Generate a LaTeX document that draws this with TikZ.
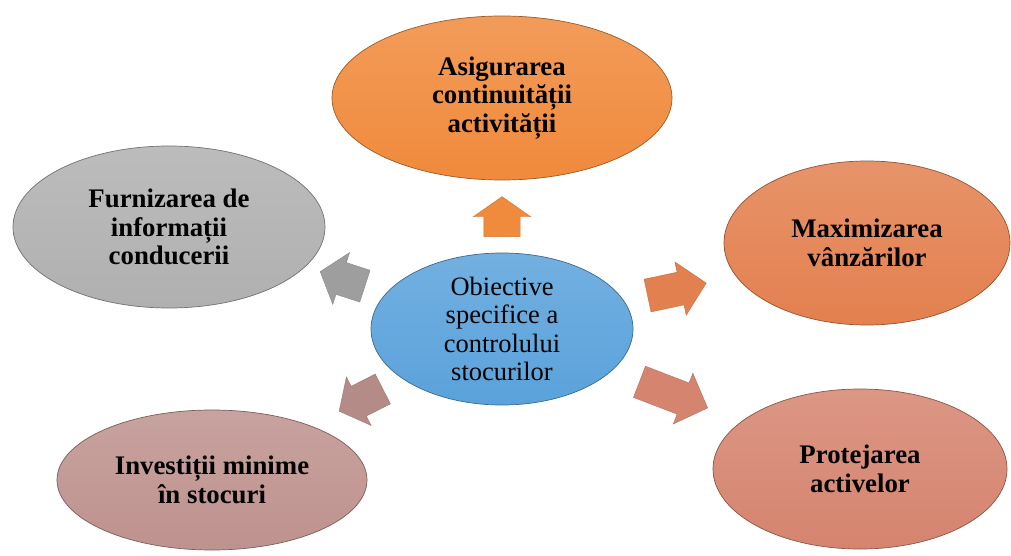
\documentclass[tikz,border=0pt]{standalone}
\usepackage{fontspec}
\setmainfont{Liberation Serif}
\usepackage{xcolor}
\usetikzlibrary{shapes.geometric,shapes.arrows}

\definecolor{cOrange}{HTML}{F08A3C}
\definecolor{cGrey}{HTML}{B0B0B0}
\definecolor{cCoral}{HTML}{E3804F}
\definecolor{cBlue}{HTML}{5AA2DB}
\definecolor{cMauve}{HTML}{BE928E}
\definecolor{cSalmon}{HTML}{D5846F}

\tikzset{
  goal/.style={ellipse, draw=#1!65!black, line width=0.7pt, top color=#1!85!white, bottom color=#1,
    align=center, font=\fontsize{26.8}{28.5}\selectfont\bfseries, inner sep=0pt},
  blockarrow/.style={single arrow, draw=#1!85!black, fill=#1, minimum height=48pt,
    minimum width=0pt, inner xsep=0pt, inner ysep=16.5pt, single arrow head extend=10.5pt,
    single arrow tip angle=102}
}

\begin{document}
\begin{tikzpicture}[x=1pt, y=-1pt]
    \useasboundingbox (0,0) rectangle (1011,556);

    % centre
    \node[goal=cBlue, minimum width=262pt, minimum height=152pt,
          font=\fontsize{26.5}{28.5}\selectfont] (obj) at (502,329)
          {Obiective\\specifice a\\controlului\\stocurilor};

    % the five goals
    \node[goal=cOrange, minimum width=340pt, minimum height=164pt] (cont) at (502,98)
          {Asigurarea\\continuității\\activității};
    \node[goal=cGrey, minimum width=312pt, minimum height=162pt] (info) at (169,227)
          {Furnizarea de\\informații\\conducerii};
    \node[goal=cCoral, minimum width=286pt, minimum height=164pt] (vanz) at (867,243)
          {Maximizarea\\vânzărilor};
    \node[goal=cMauve, minimum width=310pt, minimum height=140pt] (inv) at (212,480)
          {Investiții minime\\în stocuri};
    \node[goal=cSalmon, minimum width=294pt, minimum height=160pt] (prot) at (860,469)
          {Protejarea\\activelor};

    % block arrows
    \node[blockarrow=cOrange, rotate=90, minimum height=40pt, inner ysep=18pt,
          single arrow tip angle=110] (aUp) at (502,223) {};
    \node[blockarrow=cGrey!90!black, rotate=162, minimum height=47pt] (aInfo) at (349,281) {};
    \node[blockarrow=cCoral, rotate=12, minimum height=60pt,
          single arrow tip angle=92] (aVanz) at (669,291) {};
    \node[blockarrow=cMauve!95!black, rotate=207, minimum height=49pt] (aInv) at (367,397) {};
    \node[blockarrow=cSalmon, rotate=-21, minimum height=73pt,
          single arrow tip angle=92] (aProt) at (666,392) {};
\end{tikzpicture}
\end{document}
